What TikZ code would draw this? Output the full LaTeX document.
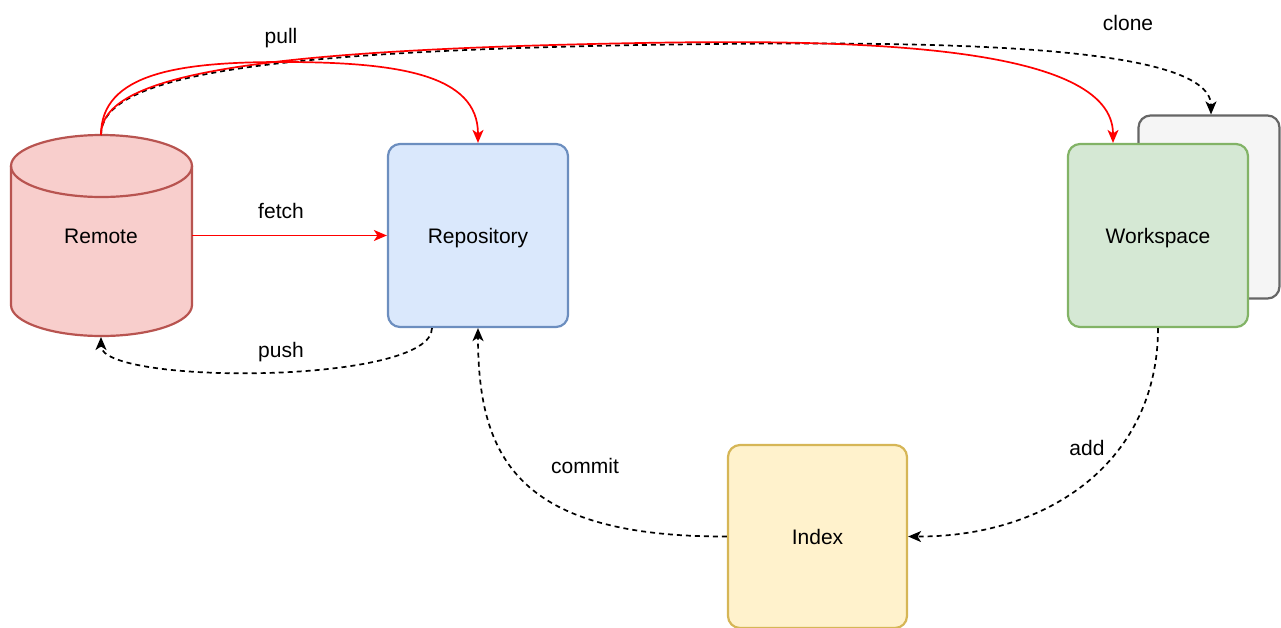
\documentclass[tikz,border=0pt]{standalone}
\usepackage{fontspec}
\setmainfont{Liberation Sans}
\usetikzlibrary{arrows.meta}
\definecolor{remfill}{HTML}{F8CECC}
\definecolor{remdraw}{HTML}{B85450}
\definecolor{repfill}{HTML}{DAE8FC}
\definecolor{repdraw}{HTML}{6C8EBF}
\definecolor{wsfill}{HTML}{D5E8D4}
\definecolor{wsdraw}{HTML}{82B366}
\definecolor{ixfill}{HTML}{FFF2CC}
\definecolor{ixdraw}{HTML}{D6B656}
\definecolor{grfill}{HTML}{F5F5F5}
\definecolor{grdraw}{HTML}{666666}
\definecolor{arrred}{HTML}{FF0000}
\begin{document}
\begin{tikzpicture}[x=1pt,y=-1pt,
  every node/.style={font=\fontsize{21}{25}\selectfont, text height=15pt, text depth=0pt},
  box/.style={rectangle, rounded corners=12pt, line width=2.2pt, minimum width=180pt, minimum height=183pt, inner sep=0pt},
  lbl/.style={inner sep=1pt},
  redarrow/.style={draw=arrred, line width=1.7pt, -{Stealth[length=13pt,width=11pt,inset=3.5pt]}},
  dasharrow/.style={draw=black, line width=1.7pt, dash pattern=on 5pt off 4pt, -{Stealth[length=13pt,width=11pt,inset=3.5pt]}}
]
\useasboundingbox (0,0) rectangle (1281,627);

% Remote cylinder
\fill[remfill] (11,166) -- (11,305) arc[start angle=180, end angle=360, x radius=90.5pt, y radius=31pt] -- (192,166) arc[start angle=0, end angle=180, x radius=90.5pt, y radius=31pt] -- cycle;
\draw[remdraw, line width=2.2pt] (11,166) -- (11,305) arc[start angle=180, end angle=360, x radius=90.5pt, y radius=31pt] -- (192,166);
\draw[remdraw, line width=2.2pt] (101.5,166) ellipse[x radius=90.5pt, y radius=31pt];
\node[rectangle, minimum width=181pt, minimum height=201pt, inner sep=0pt] (remote) at (101.5,235.5) {};
\node (remotelbl) at (101,235.5) {Remote};
\coordinate (remtop) at (101,135);
\coordinate (rembot) at (101,337);

% boxes
\node[box, fill=grfill, draw=grdraw, minimum width=141pt] (clonebox) at (1209,207) {};
\node[box, fill=repfill, draw=repdraw] (repo) at (478,235.5) {Repository};
\node[box, fill=wsfill, draw=wsdraw] (ws) at (1158,235.5) {Workspace};
\node[box, fill=ixfill, draw=ixdraw, minimum width=179pt] (index) at (817.5,536.5) {Index};

% connectors
\draw[redarrow] (remote.east) -- (repo.west);
\node[lbl] (fetchlbl) at (281,210.5) {fetch};

\draw[dasharrow] ([xshift=-46pt]repo.south) .. controls (432,385) and (101,385) .. (rembot);
\node[lbl] (pushlbl) at (281,349.5) {push};

\draw[dasharrow] (index.west) .. controls (520,537) and (478,460) .. (repo.south);
\node[lbl] (commitlbl) at (585,465.5) {commit};

\draw[dasharrow] (ws.south) .. controls (1158,460) and (1050,537) .. (index.east);
\node[lbl] (addlbl) at (1087,447.5) {add};

\draw[dasharrow] (remtop) .. controls (101,77) and (250,52) .. (640,45) .. controls (900,41) and (1211,40) .. ([xshift=2pt]clonebox.north);
\draw[redarrow] (remtop) .. controls (101,75) and (250,50) .. (640,43) .. controls (860,39) and (1113,45) .. ([xshift=-45pt]ws.north);
\draw[redarrow] (remtop) .. controls (101,73) and (180,62) .. (282,62) .. controls (400,62) and (478,75) .. (repo.north);
\node[lbl] (pulllbl) at (281,35.5) {pull};
\node[lbl] (clonelbl) at (1128,22.5) {clone};
\end{tikzpicture}
\end{document}
